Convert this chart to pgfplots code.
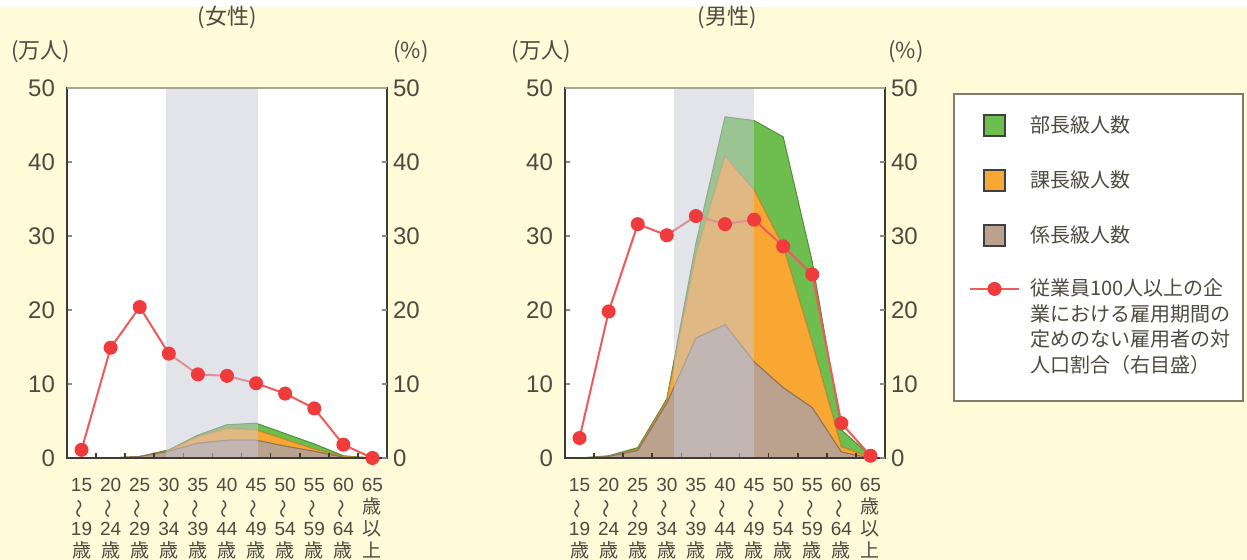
\documentclass[border=0pt]{standalone}
\usepackage{fontspec}
\setmainfont{Liberation Sans}
\newfontfamily\jp{Noto Sans CJK JP}
\usepackage{graphicx}
\usepackage{pgfplots}
\usepackage{pgfplotstable}
\pgfplotsset{compat=1.18}

\definecolor{bg}{HTML}{FFFAD8}
\definecolor{axisdark}{HTML}{3E3B33}
\definecolor{tickgray}{HTML}{8A8A85}
\definecolor{topgray}{HTML}{A8A699}
\definecolor{bandc}{RGB}{200,202,212}
\definecolor{greenf}{HTML}{6DBE4F}
\definecolor{greene}{HTML}{4F8F3C}
\definecolor{orangef}{HTML}{F8A732}
\definecolor{orangee}{HTML}{C98A2E}
\definecolor{brownf}{HTML}{BAA28F}
\definecolor{browne}{HTML}{87735F}
\definecolor{redm}{HTML}{EF3B3B}
\definecolor{redl}{HTML}{F05A5A}
\definecolor{txt}{HTML}{4D4A40}
\definecolor{leggray}{HTML}{7F7C6C}

% individual stacked values (10,000 persons) and rate (%)
\pgfplotstableread{
i brown orange green rate
0  0.0 0.0 0.0  1.1
1  0.0 0.0 0.0 14.9
2  0.2 0.0 0.0 20.4
3  0.9 0.1 0.1 14.1
4  2.0 0.9 0.2 11.3
5  2.4 1.6 0.5 11.1
6  2.4 1.4 0.9 10.1
7  1.6 0.9 0.8  8.7
8  0.9 0.3 0.7  6.7
9  0.1 0.1 0.1  1.8
10 0.0 0.0 0.0  0.0
}\women

\pgfplotstableread{
i brown orange green rate
0   0.0  0.0  0.0  2.7
1   0.2  0.0  0.1 19.8
2   1.0  0.2  0.2 31.6
3   7.4  0.4  0.2 30.1
4  16.2 11.3  1.5 32.7
5  18.0 22.8  5.3 31.6
6  13.0 23.2  9.4 32.2
7   9.5 19.1 14.8 28.6
8   6.8  8.7 11.0 24.8
9   0.8  0.7  2.3  4.7
10  0.0  0.1  0.2  0.3
}\men

\newcommand{\tl}[2]{#1\\{\jp\rotatebox[origin=c]{90}{～}}\\#2\\{\jp 歳}}

\pgfplotsset{
  base/.style={scale only axis, width=160pt, height=185pt,
    xmin=-0.5, xmax=10.5, ymin=0, ymax=50, anchor=south west,
    ytick={0,10,...,50}, tick align=inside,
    /pgf/number format/assume math mode=true,
    yticklabel style={font=\fontsize{12}{14}\selectfont, text=txt},
    ytick style={draw=tickgray, line width=1pt},
    major tick length=2.5pt},
  areas/.style={base, axis on top, axis background/.style={fill=white},
    axis line style={draw=axisdark, line width=1pt},
    ytick pos=left, yticklabel pos=left,
    yticklabel style={xshift=-2.5pt},
    xtick={0,...,10},
    xticklabels={\tl{15}{19},\tl{20}{24},\tl{25}{29},\tl{30}{34},\tl{35}{39},\tl{40}{44},\tl{45}{49},\tl{50}{54},\tl{55}{59},\tl{60}{64},{65\\{\jp 歳}\\{\jp 以}\\{\jp 上}}},
    xtick style={draw=none},
    minor xtick={0.5,1.5,...,9.5},
    minor x tick style={draw=axisdark, line width=0.8pt},
    minor tick length=2.5pt, xtick pos=left,
    xticklabel style={align=center, anchor=north, inner sep=0pt, yshift=-10pt,
      font=\fontsize{9.5}{11}\selectfont, text=txt},
    stack plots=y},
  rateax/.style={base, axis line style={draw=none}, xtick=\empty,
    ytick pos=right, yticklabel pos=right, yticklabel style={xshift=-0.5pt}, clip=false},
  ratel/.style={draw=redl, line width=1pt, mark=*, mark size=3pt,
    mark options={fill=redm, draw=redm}},
  legsq/.style={legend image code/.code={
    \draw[##1, draw=black!75, line width=1pt] (6.9pt,-5.25pt) rectangle (17.4pt,5.25pt);
    \path[draw=none, fill=none] (0pt,0pt) -- (24.5pt,0pt);}},
  legln/.style={legend image code/.code={
    \draw[mark repeat=2, mark phase=2, ##1] plot coordinates {(0pt,0pt) (12.25pt,0pt) (24.5pt,0pt)};
    \path[draw=none, fill=none] (0pt,-46pt) -- (0pt,0pt);}},
}

\begin{document}
\begin{tikzpicture}
\useasboundingbox (0,0) rectangle (623.5pt,280pt);
\fill[bg] (0,0) rectangle (623.5pt,280pt);
\fill[white] (0,276.5pt) rectangle (623.5pt,280pt);

% ---------------- women ----------------
\begin{axis}[areas, at={(33.5pt,51pt)}]
\addplot[fill=brownf, draw=browne, line width=0.5pt] table[x=i,y=brown]{\women} \closedcycle;
\addplot[fill=orangef, draw=orangee, line width=0.5pt] table[x=i,y=orange]{\women} \closedcycle;
\addplot[fill=greenf, draw=greene, line width=0.5pt] table[x=i,y=green]{\women} \closedcycle;
\end{axis}
\begin{axis}[rateax, at={(33.5pt,51pt)}]
\addplot[ratel] table[x=i,y=rate]{\women};
\fill[bandc, opacity=0.5] (axis cs:2.9,0.15) rectangle (axis cs:6.05,49.85);
\draw[topgray, line width=1pt] (rel axis cs:0,1) -- (rel axis cs:1,1);
\end{axis}

% ---------------- men ----------------
\begin{axis}[areas, at={(282.5pt,51pt)},
  legend style={at={(1.2125,0.9865)}, anchor=north west, draw=leggray, line width=1pt,
    fill=white, inner xsep=7.5pt, inner ysep=10pt, column sep=5pt, row sep=16pt,
    font=\jp\fontsize{10}{12.75}\selectfont, text=txt,
    nodes={inner sep=0pt}},
  legend cell align=left]
\addplot[fill=brownf, draw=browne, line width=0.5pt, forget plot] table[x=i,y=brown]{\men} \closedcycle;
\addplot[fill=orangef, draw=orangee, line width=0.5pt, forget plot] table[x=i,y=orange]{\men} \closedcycle;
\addplot[fill=greenf, draw=greene, line width=0.5pt, forget plot] table[x=i,y=green]{\men} \closedcycle;
\addlegendimage{legsq, fill=greenf}
\addlegendentry{部長級人数}
\addlegendimage{legsq, fill=orangef}
\addlegendentry{課長級人数}
\addlegendimage{legsq, fill=brownf}
\addlegendentry{係長級人数}
\addlegendimage{legln, draw=redl, line width=1pt, mark=*, mark size=3pt, mark options={fill=redm, draw=redm}}
\addlegendentry{\parbox[t]{99pt}{従業員100人以上の企\\業における雇用期間の\\定めのない雇用者の対\\人口割合（右目盛）}}
\end{axis}
\begin{axis}[rateax, at={(282.5pt,51pt)}]
\addplot[ratel] table[x=i,y=rate]{\men};
\fill[bandc, opacity=0.5] (axis cs:3.23,0.15) rectangle (axis cs:6.0,49.85);
\draw[topgray, line width=1pt] (rel axis cs:0,1) -- (rel axis cs:1,1);
\end{axis}

% titles and unit labels
\begin{scope}[every node/.style={font=\jp\fontsize{11}{13}\selectfont, text=txt}]
\node at (113.5pt,271.5pt) {(女性)};
\node at (363.5pt,271.5pt) {(男性)};
\node at (20.5pt,254pt) {(万人)};
\node at (205.5pt,254pt) {(\%)};
\node at (270.5pt,254pt) {(万人)};
\node at (453pt,254pt) {(\%)};
\end{scope}
\end{tikzpicture}
\end{document}
